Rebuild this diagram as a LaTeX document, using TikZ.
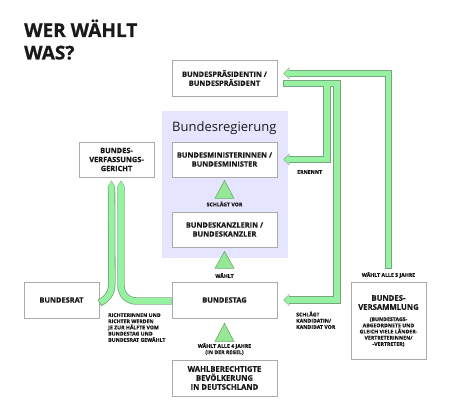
\documentclass[tikz,border=0pt]{standalone}
\usepackage{fontspec}
\setmainfont{Open Sans}
\newfontfamily\titlefont{Open Sans}[BoldFeatures={FakeBold=0.8}]
\newfontfamily\heavyfont{Open Sans}[BoldFeatures={FakeBold=0.3}]
\usetikzlibrary{arrows.meta,calc}
\definecolor{bandfill}{RGB}{150,242,160}
\definecolor{bandline}{RGB}{120,165,128}
\definecolor{trifill}{RGB}{150,232,150}
\definecolor{triline}{RGB}{110,168,112}
\definecolor{regblue}{RGB}{229,229,255}
\definecolor{boxline}{RGB}{170,170,170}
\definecolor{txt}{RGB}{25,25,25}
\newcommand\bandset[1]{%
  \draw[band#1, bigtip#1] (vsTop) |- (bpA);
  \draw[band#1, bigtip#1] (bpB) -| (r2) -- (bttip);
  \draw[band#1, bigtip#1] (branch) |- (bmtip);
  \draw[band#1, smalltip#1] (brS) .. controls (c1) and (c2) .. (brV) -- (bvL);
  \draw[band#1, smalltip#1, rounded corners=15pt] (btW) -| (bvR);
}
\begin{document}
\begin{tikzpicture}[x=1pt,y=-1pt,
  box/.style={draw=boxline, line width=0.8pt, fill=white, text=txt, align=center,
    font=\fontsize{7.4}{9}\selectfont\heavyfont\bfseries, inner sep=0pt},
  bigbox/.style={box, font=\fontsize{7.7}{9}\selectfont\heavyfont\bfseries},
  lbl/.style={text=txt, font=\fontsize{5.2}{6.2}\selectfont\heavyfont\bfseries, inner sep=0pt},
  bandout/.style={draw=bandline, line width=7.4pt, line join=miter},
  bandin/.style={draw=bandfill, line width=5.8pt, line join=miter, shorten <=0.8pt, shorten >=0.8pt},
  bigtipout/.style={-{Triangle[length=6pt,width=12pt,line width=0pt]}},
  bigtipin/.style={-{Triangle[length=4.6pt,width=9.8pt,line width=0pt]}},
  smalltipout/.style={-{Triangle[length=6pt,width=7.4pt,line width=0pt]}},
  smalltipin/.style={-{Triangle[length=4.6pt,width=5.8pt,line width=0pt]}},
  tri/.style={fill=trifill, draw=triline, line width=0.6pt, line join=miter},
]
\useasboundingbox (0,0) rectangle (450,420);
\fill[white] (0,0) rectangle (450,420);

% title
\node[anchor=base west, inner sep=0pt, text=txt, font=\fontsize{19}{22}\selectfont\titlefont\bfseries] (title1) at (24,37) {WER WÄHLT};
\node[anchor=base west, inner sep=0pt, text=txt, font=\fontsize{19}{22}\selectfont\titlefont\bfseries] (title2) at (24,59.5) {WAS?};

% Bundesregierung area
\fill[regblue] (162,111) rectangle (288,258);
\node[anchor=base west, inner sep=0pt, text=txt, font=\fontsize{13}{15}\selectfont] (reg) at (172,131) {Bundesregierung};

% boxes
\node[box, minimum width=105pt, minimum height=36pt] (bp) at (224.5,78) {BUNDESPRÄSIDENTIN /\\BUNDESPRÄSIDENT};
\node[box, minimum width=105pt, minimum height=35pt] (bm) at (224.5,159.5) {BUNDESMINISTERINNEN /\\BUNDESMINISTER};
\node[box, minimum width=105pt, minimum height=35pt] (bk) at (224.5,229.5) {BUNDESKANZLERIN /\\BUNDESKANZLER};
\node[box, minimum width=105pt, minimum height=36pt] (bt) at (224.5,300) {BUNDESTAG};
\node[bigbox, minimum width=105pt, minimum height=36pt] (wb) at (224.5,378) {WAHLBERECHTIGTE\\BEVÖLKERUNG\\IN DEUTSCHLAND};
\node[box, minimum width=75pt, minimum height=36pt] (br) at (61.5,300) {BUNDESRAT};
\node[box, minimum width=75pt, minimum height=35pt] (bv) at (116.5,159.5) {BUNDES-\\VERFASSUNGS-\\GERICHT};
\node[box, minimum width=75pt, minimum height=77pt] (bvs) at (388.5,320.5) {};
\node[inner sep=0pt, text=txt, align=center, font=\fontsize{7.7}{9}\selectfont\heavyfont\bfseries] (bvsT) at (388.5,302.5) {BUNDES-\\VERSAMMLUNG};
\node[lbl, align=center] (bvsS) at (388.5,332) {(BUNDESTAGS-\\ABGEORDNETE UND\\GLEICH VIELE LÄNDER-\\VERTRETERINNEN/\\-VERTRETER)};

% connector coordinates
\coordinate (bpA) at ([shift={(6,-4.5)}]bp.east);
\coordinate (bpB) at ([shift={(6,5.5)}]bp.east);
\coordinate (bmtip) at ([shift={(6,0)}]bm.east);
\coordinate (bttip) at ([shift={(6,0)}]bt.east);
\coordinate (r2) at ([shift={(59.5,0)}]bt.east);
\coordinate (branch) at ([shift={(43.5,0)}]bpB);
\coordinate (vsTop) at ([shift={(0,-13)}]bvs.north);
\coordinate (brS) at ([shift={(0,3)}]br.east);
\coordinate (c1) at ([shift={(7,-0.5)}]br.east);
\coordinate (c2) at ([shift={(12.5,-6)}]br.east);
\coordinate (brV) at ([shift={(12.5,-17)}]br.east);
\coordinate (bvL) at ([shift={(-5,3)}]bv.south);
\coordinate (btW) at ([shift={(0,1)}]bt.west);
\coordinate (bvR) at ([shift={(4.5,3)}]bv.south);

% green bands
\bandset{out}
\bandset{in}

% triangles
\filldraw[tri] ([shift={(0,3)}]bm.south) -- ++(9.5,18) -- ++(-19,0) -- cycle;
\filldraw[tri] ([shift={(0,4)}]bk.south) -- ++(9.5,17) -- ++(-19,0) -- cycle;
\filldraw[tri] ([shift={(0,5)}]bt.south) -- ++(9.5,18) -- ++(-19,0) -- cycle;

% labels
\node[lbl] (l1) at (224.5,204) {SCHLÄGT VOR};
\node[lbl] (l2) at (224.5,275.5) {WÄHLT};
\node[lbl, align=center] (l3) at (224.5,349) {WÄHLT ALLE 4 JAHRE\\(IN DER REGEL)};
\node[lbl] (l4) at (388.5,275) {WÄHLT ALLE 5 JAHRE};
\node[lbl, anchor=north west] (l5) at (297,170) {ERNENNT};
\node[lbl, anchor=north west, align=left] (l6) at (296,311.5) {SCHLÄGT\\KANDIDATIN/\\KANDIDAT VOR};
\node[lbl, anchor=north west, align=left] (l7) at (108,313) {RICHTERINNEN UND\\RICHTER WERDEN\\JE ZUR HÄLFTE VOM\\BUNDESTAG UND\\BUNDESRAT GEWÄHLT};
\end{tikzpicture}
\end{document}
